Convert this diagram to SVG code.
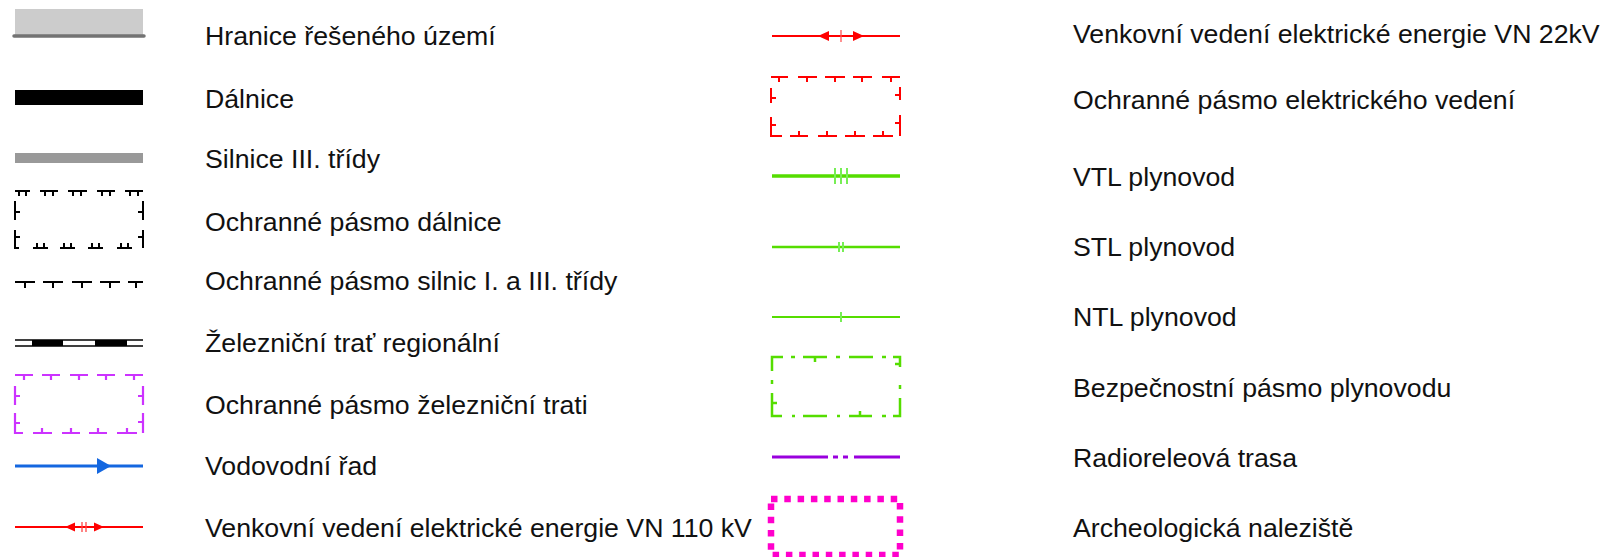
<svg xmlns="http://www.w3.org/2000/svg" width="1605" height="557" viewBox="0 0 1605 557">
<style>
text{font-family:"Liberation Sans",Arial,sans-serif;font-size:26.7px;fill:#111}
.k{fill:none;stroke:#000;stroke-width:2}
.mg{fill:none;stroke:#cc33ff;stroke-width:2.2}
.rd{fill:none;stroke:#ff0000;stroke-width:2}
.gr{fill:none;stroke:#55dd00}
.grt{fill:none;stroke:#77ee55;stroke-width:2}
</style>
<rect width="1605" height="557" fill="#fff"/>
<g id="hranice">
<rect x="15" y="9" width="128" height="26" fill="#cccccc"/>
<line x1="14" y1="36" x2="144" y2="36" stroke="#737373" stroke-width="3.5" stroke-linecap="round"/>
<text x="205" y="45">Hranice řešeného území</text>
</g>
<g id="dalnice">
<rect x="15" y="90" width="128" height="15" fill="#000"/>
<text x="205" y="108">Dálnice</text>
</g>
<g id="silnice3">
<rect x="15" y="153" width="128" height="10" fill="#999999"/>
<text x="205" y="168">Silnice III. třídy</text>
</g>
<g id="op-dalnice">
<path class="k" d="M15,191H30M40,191H58M68,191H87M97,191H115M125,191H143
M19,191V196M26,191V196M45,191V196M53,191V196M73,191V196M81,191V196M102,191V196M110,191V196M130,191V196M138,191V196
M15,201V220M15,230V248H19M15,212H20M15,237H20
M143,201V220M143,230V248M143,212H138M143,237H138
M33,248H48M60,248H75M88,248H103M117,248H132
M37,248V243M44,248V243M64,248V243M71,248V243M92,248V243M99,248V243M121,248V243M128,248V243"/>
<text x="205" y="231">Ochranné pásmo dálnice</text>
</g>
<g id="op-silnic">
<path class="k" d="M15,282H35M43,282H63M72,282H92M100,282H120M128,282H143M25,282V288M53,282V288M82,282V288M110,282V288M136,282V288"/>
<text x="205" y="290">Ochranné pásmo silnic I. a III. třídy</text>
</g>
<g id="zeleznice">
<rect x="32" y="340" width="31" height="6" fill="#000"/>
<rect x="95" y="340" width="32" height="6" fill="#000"/>
<path d="M15,340H143M15,346H143" stroke="#000" stroke-width="1.6" fill="none"/>
<text x="205" y="352">Železniční trať regionální</text>
</g>
<g id="op-zeleznice">
<path class="mg" d="M15,375H33M42,375H60M70,375H88M97,375H115M125,375H143
M24,375V380M51,375V380M79,375V380M106,375V380M134,375V380
M15,386V405M15,413V433H23M15,396H20M15,423H20
M143,386V405M143,413V433M143,396H138M143,422H138
M33,433H52M62,433H80M89,433H107M117,433H137
M42,433V428M71,433V428M98,433V428M127,433V428"/>
<text x="205" y="414">Ochranné pásmo železniční trati</text>
</g>
<g id="vodovod">
<line x1="15" y1="466" x2="143" y2="466" stroke="#1467e0" stroke-width="3"/>
<path d="M97,458L111,466L97,474Z" fill="#1467e0"/>
<text x="205" y="475">Vodovodní řad</text>
</g>
<g id="vn110">
<line class="rd" x1="15" y1="527" x2="143" y2="527"/>
<path d="M65,527L75,522.5V531.5ZM104,527L94,522.5V531.5Z" fill="#ff0000"/>
<path d="M82,522V532M86,522V532" stroke="#ff4444" stroke-width="1.3"/>
<text x="205" y="537">Venkovní vedení elektrické energie VN 110 kV</text>
</g>
<g id="vn22">
<line class="rd" x1="772" y1="36" x2="900" y2="36"/>
<path d="M818,36L829,31V41ZM864,36L853,31V41Z" fill="#ff0000"/>
<path d="M841,30V42" stroke="#ff5555" stroke-width="1.3"/>
<text x="1073" y="43">Venkovní vedení elektrické energie VN 22kV</text>
</g>
<g id="op-elektro">
<path class="rd" d="M771,77H788M798,77H817M825,77H845M853,77H872M882,77H900
M779,77V82M807,77V82M835,77V82M862,77V82M891,77V82
M771,88V103M771,117V136H782M771,98H776M771,125H776
M900,87V100M900,115V136M900,95H895M900,123H895
M790,136H808M818,136H837M845,136H865M873,136H893
M799,136V131M827,136V131M855,136V131M883,136V131"/>
<text x="1073" y="109">Ochranné pásmo elektrického vedení</text>
</g>
<g id="vtl">
<line class="gr" x1="772" y1="176" x2="900" y2="176" stroke-width="3.5"/>
<path class="grt" d="M835,168V184M841,168V184M847,168V184"/>
<text x="1073" y="186">VTL plynovod</text>
</g>
<g id="stl">
<line class="gr" x1="772" y1="247" x2="900" y2="247" stroke-width="2.5"/>
<path class="grt" d="M839,242V252M843,242V252" stroke-width="1.5"/>
<text x="1073" y="256">STL plynovod</text>
</g>
<g id="ntl">
<line class="gr" x1="772" y1="317" x2="900" y2="317" stroke-width="1.8"/>
<path class="grt" d="M841,312V322" stroke-width="1.5"/>
<text x="1073" y="326">NTL plynovod</text>
</g>
<g id="bp-plyn">
<path class="gr" stroke-width="2.5" d="M783,357H772V371M791,357H795M803,357H827M836,357H840M849,357H873M882,357H886M893,357H900V367
M815,357V362M900,364H895M900,385V389M900,398V416H893M886,416H882M872,416H849M840,416H837M827,416H803M795,416H792M782,416H772V393M772,380V384M772,403H777M860,416V411"/>
<text x="1073" y="397">Bezpečnostní pásmo plynovodu</text>
</g>
<g id="radiorele">
<path d="M772,457H828M833,457H838M843,457H848M854,457H900" stroke="#9900dd" stroke-width="3" fill="none"/>
<text x="1073" y="467">Radioreleová trasa</text>
</g>
<g id="archeo">
<rect x="771" y="499" width="129" height="56" fill="none" stroke="#ff00cc" stroke-width="6.5" stroke-dasharray="6.5 6.8"/>
<text x="1073" y="537">Archeologická naleziště</text>
</g>
<g id="connectors"></g>
</svg>
